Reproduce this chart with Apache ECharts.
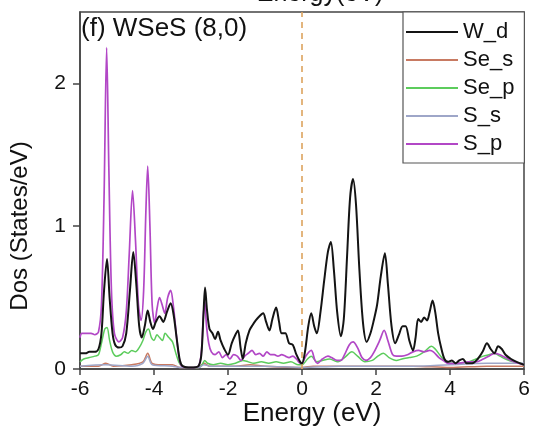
<!DOCTYPE html>
<html>
<head>
<meta charset="utf-8">
<script src="https://cdn.jsdelivr.net/npm/echarts@6/dist/echarts.min.js"></script>
<style>
  html, body { margin: 0; padding: 0; background: #fff; }
  #chart { width: 533px; height: 433px; }
</style>
</head>
<body>
<div id="chart"></div>
<script>
// Projected density of states for WSeS (8,0), energies in eV relative to E_F
const seriesNames = ['W_d', 'Se_s', 'Se_p', 'S_s', 'S_p'];
const xTicks = [-6, -4, -2, 0, 2, 4, 6];
const yTicks = [0, 1, 2];

const wdEnergy = [-6.0,-5.85,-5.75,-5.6,-5.5,-5.42,-5.35,-5.27,-5.2,-5.12,-5.05,-4.95,-4.85,-4.75,-4.65,-4.56,-4.48,-4.4,-4.33,-4.25,-4.17,-4.1,-4.03,-3.95,-3.85,-3.75,-3.65,-3.55,-3.47,-3.38,-3.3,-3.22,-3.0,-2.8,-2.72,-2.66,-2.62,-2.57,-2.5,-2.42,-2.35,-2.27,-2.2,-2.1,-2.0,-1.9,-1.8,-1.73,-1.66,-1.6,-1.52,-1.42,-1.33,-1.25,-1.15,-1.05,-0.97,-0.88,-0.8,-0.7,-0.62,-0.55,-0.45,-0.35,-0.25,-0.15,-0.05,0.0,0.08,0.17,0.25,0.33,0.4,0.5,0.6,0.7,0.78,0.86,0.95,1.05,1.13,1.22,1.3,1.38,1.46,1.55,1.65,1.75,1.85,1.93,2.03,2.13,2.24,2.32,2.42,2.52,2.62,2.72,2.8,2.9,3.0,3.07,3.14,3.22,3.3,3.38,3.45,3.53,3.6,3.68,3.76,3.85,3.95,4.05,4.15,4.25,4.35,4.45,4.6,4.75,4.88,5.0,5.1,5.2,5.3,5.4,5.5,5.65,5.8,6.0];
const wdDos = [0.11,0.11,0.12,0.12,0.14,0.25,0.55,0.77,0.5,0.25,0.17,0.15,0.16,0.25,0.55,0.82,0.6,0.3,0.22,0.3,0.41,0.33,0.28,0.33,0.37,0.33,0.4,0.46,0.38,0.2,0.06,0.02,0.01,0.02,0.1,0.4,0.57,0.42,0.28,0.25,0.21,0.26,0.2,0.14,0.1,0.18,0.24,0.27,0.15,0.07,0.18,0.27,0.31,0.34,0.37,0.39,0.33,0.27,0.35,0.43,0.33,0.25,0.25,0.18,0.17,0.1,0.05,0.04,0.12,0.3,0.39,0.3,0.25,0.4,0.62,0.82,0.89,0.7,0.4,0.23,0.35,0.8,1.2,1.33,1.15,0.7,0.32,0.19,0.25,0.33,0.45,0.65,0.81,0.6,0.3,0.18,0.24,0.3,0.3,0.2,0.13,0.22,0.35,0.33,0.36,0.34,0.4,0.48,0.4,0.25,0.15,0.07,0.05,0.06,0.04,0.06,0.07,0.04,0.04,0.07,0.12,0.18,0.14,0.11,0.16,0.14,0.1,0.07,0.05,0.03];

const sesEnergy = [-6.0,-5.5,-5.3,-5.1,-4.6,-4.3,-4.17,-4.05,-3.8,-3.5,-3.3,-2.8,-2.65,-2.5,-1.8,-1.4,-1.0,0.0,0.3,1.0,2.0,3.0,4.0,5.0,6.0];
const sesDos = [0.02,0.02,0.04,0.02,0.03,0.05,0.11,0.04,0.03,0.03,0.01,0.01,0.04,0.02,0.02,0.03,0.02,0.01,0.02,0.02,0.02,0.02,0.01,0.02,0.02];

const sepEnergy = [-6.0,-5.9,-5.75,-5.6,-5.5,-5.42,-5.33,-5.27,-5.2,-5.12,-5.02,-4.9,-4.8,-4.7,-4.6,-4.5,-4.4,-4.3,-4.22,-4.15,-4.07,-4.0,-3.92,-3.85,-3.77,-3.7,-3.6,-3.5,-3.42,-3.33,-3.25,-3.0,-2.8,-2.7,-2.63,-2.55,-2.4,-2.2,-2.0,-1.8,-1.6,-1.45,-1.3,-1.1,-0.9,-0.7,-0.5,-0.3,-0.1,0.0,0.15,0.25,0.4,0.55,0.75,0.95,1.15,1.35,1.5,1.7,1.9,2.05,2.2,2.35,2.55,2.7,2.9,3.1,3.3,3.5,3.6,3.75,3.9,4.1,4.3,4.5,4.7,4.9,5.05,5.2,5.35,5.5,5.7,5.9,6.0];
const sepDos = [0.05,0.07,0.08,0.09,0.1,0.18,0.28,0.29,0.2,0.12,0.09,0.1,0.12,0.11,0.13,0.12,0.15,0.2,0.26,0.28,0.22,0.2,0.24,0.22,0.2,0.25,0.22,0.19,0.12,0.05,0.02,0.01,0.01,0.03,0.06,0.04,0.03,0.04,0.03,0.04,0.06,0.05,0.04,0.05,0.04,0.05,0.04,0.05,0.03,0.03,0.07,0.09,0.05,0.06,0.07,0.05,0.08,0.12,0.09,0.05,0.06,0.09,0.11,0.08,0.06,0.07,0.08,0.09,0.12,0.16,0.14,0.09,0.05,0.04,0.04,0.05,0.07,0.09,0.1,0.11,0.09,0.07,0.05,0.04,0.03];

const ssEnergy = [-6.0,-5.3,-4.6,-4.3,-4.17,-4.05,-3.5,-3.3,-2.8,-2.65,-2.5,-1.0,0.0,1.0,2.0,3.0,4.0,5.0,6.0];
const ssDos = [0.02,0.03,0.02,0.04,0.09,0.03,0.02,0.01,0.01,0.03,0.02,0.02,0.01,0.02,0.02,0.02,0.03,0.04,0.04];

const spEnergy = [-6.0,-5.95,-5.7,-5.6,-5.5,-5.42,-5.35,-5.28,-5.22,-5.15,-5.07,-4.95,-4.85,-4.75,-4.67,-4.58,-4.5,-4.42,-4.35,-4.28,-4.22,-4.17,-4.11,-4.05,-3.98,-3.92,-3.85,-3.78,-3.71,-3.63,-3.55,-3.48,-3.4,-3.32,-3.25,-3.0,-2.8,-2.72,-2.67,-2.63,-2.58,-2.52,-2.45,-2.35,-2.25,-2.15,-2.05,-1.95,-1.85,-1.75,-1.65,-1.55,-1.45,-1.35,-1.25,-1.15,-1.05,-0.95,-0.85,-0.75,-0.65,-0.55,-0.45,-0.35,-0.25,-0.15,-0.05,0.0,0.1,0.25,0.35,0.42,0.55,0.7,0.8,0.95,1.05,1.15,1.28,1.38,1.5,1.62,1.73,1.85,1.95,2.1,2.22,2.32,2.45,2.55,2.7,2.85,3.0,3.15,3.3,3.45,3.55,3.7,3.82,3.95,4.2,4.5,4.7,4.9,5.05,5.2,5.35,5.5,5.65,5.85,6.0];
const spDos = [0.22,0.25,0.25,0.24,0.26,0.45,1.2,2.25,1.4,0.55,0.25,0.19,0.22,0.4,0.8,1.25,0.9,0.45,0.34,0.55,1.1,1.42,1.0,0.45,0.32,0.42,0.5,0.45,0.39,0.5,0.55,0.45,0.25,0.08,0.02,0.01,0.02,0.12,0.35,0.48,0.3,0.18,0.12,0.1,0.12,0.08,0.1,0.07,0.1,0.09,0.06,0.09,0.11,0.13,0.1,0.11,0.09,0.12,0.1,0.1,0.09,0.1,0.09,0.08,0.09,0.07,0.04,0.04,0.09,0.13,0.06,0.04,0.07,0.09,0.08,0.06,0.06,0.1,0.17,0.19,0.15,0.08,0.06,0.08,0.12,0.2,0.27,0.2,0.1,0.09,0.09,0.1,0.12,0.13,0.12,0.13,0.12,0.08,0.06,0.04,0.04,0.05,0.05,0.07,0.09,0.11,0.1,0.08,0.06,0.04,0.03];

const pairs = (xs, ys) => xs.map((x, i) => [x, ys[i]]);

const FONT = '"Liberation Sans", Arial, Helvetica, sans-serif';
const curves = [
  { name: 'W_d',  x: wdEnergy,  y: wdDos,  color: '#141414', width: 2.0, z: 6 },
  { name: 'Se_s', x: sesEnergy, y: sesDos, color: '#c87a62', width: 1.5, z: 3 },
  { name: 'Se_p', x: sepEnergy, y: sepDos, color: '#5ccc5c', width: 1.5, z: 3 },
  { name: 'S_s',  x: ssEnergy,  y: ssDos,  color: '#9ea6c8', width: 1.5, z: 3 },
  { name: 'S_p',  x: spEnergy,  y: spDos,  color: '#b247c6', width: 1.7, z: 4 }
];

const series = curves.map(c => ({
  name: c.name,
  type: 'line',
  data: pairs(c.x, c.y),
  symbol: 'none',
  smooth: 0.3,
  z: c.z,
  lineStyle: { color: c.color, width: c.width },
  itemStyle: { color: c.color },
  emphasis: { disabled: true },
  animation: false
}));

// Fermi level marker
series[0].markLine = {
  silent: true,
  symbol: 'none',
  label: { show: false },
  lineStyle: { color: '#dca35e', type: [6, 5], width: 1.6 },
  data: [{ xAxis: 0 }]
};

const chart = echarts.init(document.getElementById('chart'), null, { renderer: 'canvas' });
chart.setOption({
  backgroundColor: '#ffffff',
  animation: false,
  textStyle: { fontFamily: FONT },
  grid: {
    left: 80, right: 9, top: 12, bottom: 64,
    show: true, borderColor: '#444', borderWidth: 1.5, backgroundColor: 'transparent'
  },
  legend: {
    data: seriesNames,
    orient: 'vertical',
    left: 403, top: 12,
    padding: [9, 10, 8, 3],
    icon: 'rect',
    itemWidth: 52, itemHeight: 2, itemGap: 6,
    borderColor: '#555', borderWidth: 1.2,
    backgroundColor: '#fff',
    textStyle: { fontSize: 22, color: '#111', fontFamily: FONT, lineHeight: 22 },
    selectedMode: false
  },
  graphic: [
    {
      type: 'text', left: 81, top: 16, z: 10,
      style: { text: '(f) WSeS (8,0)', font: '26px ' + FONT, fill: '#111' }
    },
    {
      type: 'text', x: 320, y: -6, z: 10,
      style: { text: 'Energy(eV)', font: '25px ' + FONT, fill: '#111', textAlign: 'center', textVerticalAlign: 'middle' }
    },
    {
      type: 'text', x: 20, y: 226, rotation: Math.PI / 2, z: 10,
      style: { text: 'Dos (States/eV)', font: '24px ' + FONT, fill: '#111', textAlign: 'center', textVerticalAlign: 'middle' }
    },
    {
      type: 'text', x: 312, y: 414, z: 10,
      style: { text: 'Energy (eV)', font: '26px ' + FONT, fill: '#111', textAlign: 'center', textVerticalAlign: 'middle' }
    }
  ],
  xAxis: {
    type: 'value',
    min: -6, max: 6, interval: 2,
    axisLine: { show: true, onZero: false, lineStyle: { color: '#444', width: 1.5 } },
    axisTick: { show: true, inside: false, length: 6, lineStyle: { color: '#444', width: 1.5 }, customValues: xTicks },
    axisLabel: { fontSize: 21, color: '#111', margin: 10, fontFamily: FONT, customValues: xTicks },
    splitLine: { show: false }
  },
  yAxis: {
    type: 'value',
    min: 0, max: 2.5, interval: 1,
    axisLine: { show: true, onZero: false, lineStyle: { color: '#444', width: 1.5 } },
    axisTick: { show: true, inside: false, length: 7, lineStyle: { color: '#444', width: 1.5 }, customValues: yTicks },
    axisLabel: { fontSize: 21, color: '#111', margin: 14, fontFamily: FONT, customValues: yTicks },
    splitLine: { show: false }
  },
  series: series
});
</script>
</body>
</html>
